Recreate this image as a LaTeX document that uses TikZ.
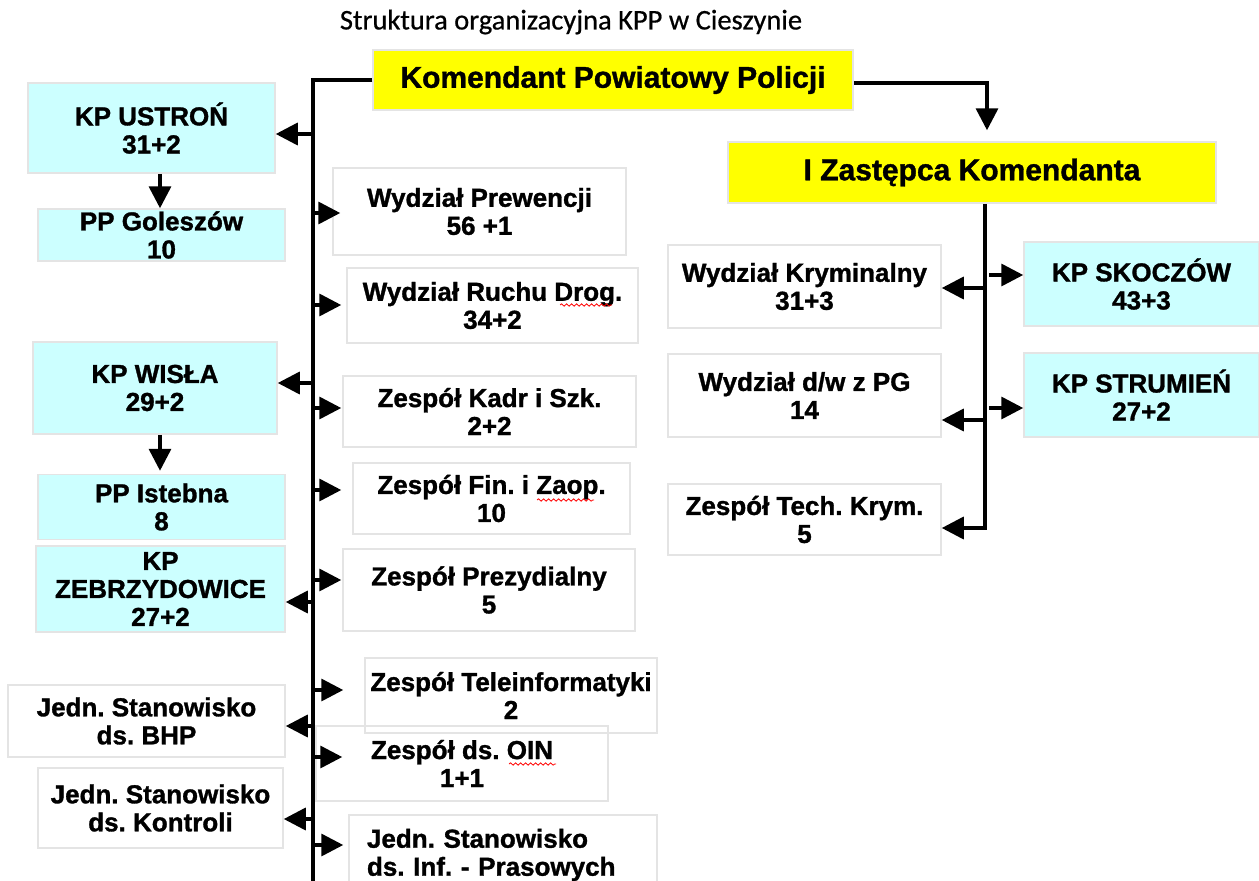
\documentclass[tikz,border=0pt]{standalone}
\usepackage{fontspec}
\setmainfont{Liberation Sans}[BoldFeatures={FakeBold=1.2}]
\newfontfamily\titlefont{Carlito}[FakeBold=0.6]
\usetikzlibrary{arrows.meta,decorations.pathmorphing}
\definecolor{lcyan}{HTML}{CCFFFF}
\definecolor{yel}{HTML}{FFFF00}
\definecolor{bord}{HTML}{E4E4E4}
\frenchspacing
\begin{document}
\frenchspacing
\begin{tikzpicture}[x=1pt,y=-1pt,
  box/.style={draw=bord, line width=1.5pt, inner sep=0pt, align=center, font=\fontsize{26}{28}\selectfont\bfseries\frenchspacing},
  cbox/.style={box, fill=lcyan},
  ybox/.style={box, fill=yel, font=\fontsize{30}{32}\selectfont\bfseries},
  conn/.style={line width=3.5pt},
  arr/.style={line width=3.5pt, -{Triangle[length=22pt,width=22pt]}},
  squig/.style={red, line width=0.8pt, decorate, decoration={snake, amplitude=1.2pt, segment length=5pt}}
]
\useasboundingbox[fill=white] (0,0) rectangle (1259,881);

\node[font=\titlefont\fontsize{28.5}{30}\selectfont] (title) at (571,22) {Struktura organizacyjna KPP w Cieszynie};

% top
\node[ybox, minimum width=480pt, minimum height=60pt] (kpp) at (613,80) {Komendant Powiatowy Policji};
\node[ybox, minimum width=488pt, minimum height=61pt] (zast) at (972,172.5) {I Zastępca Komendanta};

% left column
\node[cbox, minimum width=247pt, minimum height=90pt] (ustron) at (151.5,128) {KP USTROŃ\\31+2};
\node[cbox, minimum width=247pt, minimum height=52pt] (golesz) at (161.5,235) {PP Goleszów\\10};
\node[cbox, minimum width=244pt, minimum height=92pt] (wisla) at (155,388) {KP WISŁA\\29+2};
\node[cbox, minimum width=247pt, minimum height=65pt] (istebna) at (161.5,507) {PP Istebna\\8};
\node[cbox, minimum width=249pt, minimum height=86pt] (zebrz) at (160.5,589) {KP\\ZEBRZYDOWICE\\27+2};
\node[box, minimum width=277pt, minimum height=72pt] (bhp) at (146.5,721) {Jedn. Stanowisko\\ds. BHP};
\node[box, minimum width=245pt, minimum height=80pt] (kontr) at (160.5,808) {Jedn. Stanowisko\\ds. Kontroli};

% middle column
\node[box, minimum width=293pt, minimum height=87pt] (prew) at (479.5,211.5) {Wydział Prewencji\\56 +1};
\node[box, minimum width=291pt, minimum height=75pt] (ruch) at (492.5,305.5) {Wydział Ruchu Drog.\\34+2};
\node[box, minimum width=293pt, minimum height=71pt] (kadr) at (489.5,411.5) {Zespół Kadr i Szk.\\2+2};
\node[box, minimum width=277pt, minimum height=71pt] (fin) at (491.5,498.5) {Zespół Fin. i Zaop.\\10};
\node[box, minimum width=292pt, minimum height=82pt] (prez) at (489,590) {Zespół Prezydialny\\5};
\node[box, minimum width=292pt, minimum height=75pt] (tele) at (511,695.5) {Zespół Teleinformatyki\\2};
\node[box, fill=none, minimum width=292pt, minimum height=75pt] (oin) at (462,763.5) {Zespół ds. OIN\\1+1};
\node[box, minimum width=308pt, minimum height=80pt, text width=272pt, align=left] (prasa) at (503,855) {Jedn. Stanowisko\\ds. Inf. - Prasowych};

% right side
\node[box, minimum width=273pt, minimum height=83pt] (krym) at (804.5,286.5) {Wydział Kryminalny\\31+3};
\node[box, minimum width=273pt, minimum height=83pt] (dw) at (804.5,395.5) {Wydział d/w z PG\\14};
\node[box, minimum width=273pt, minimum height=71pt] (tech) at (804.5,519.5) {Zespół Tech. Krym.\\5};
\node[cbox, minimum width=235pt, minimum height=84pt] (skocz) at (1141.5,284) {KP SKOCZÓW\\43+3};
\node[cbox, minimum width=235pt, minimum height=84pt] (strum) at (1141.5,395) {KP STRUMIEŃ\\27+2};

% spelling squiggles
\draw[squig] (560,305) -- (612,305);
\draw[squig] (537,500) -- (594,500);
\draw[squig] (509,764) -- (556,764);

% main spine
\coordinate (sp) at (313,0);
\coordinate (spb) at (313,895);
\draw[conn] (kpp.west) -| (spb);

% left arrows
\draw[arr] (sp |- 0,134) -- (ustron.east |- 0,134);
\draw[arr] (sp |- 0,383) -- (wisla.east |- 0,383);
\draw[arr] (sp |- 0,602) -- (zebrz.east |- 0,602);
\draw[arr] (sp |- 0,726) -- (bhp.east |- 0,726);
\draw[arr] (sp |- 0,819) -- (kontr.east |- 0,819);

% right arrows
\draw[arr, shorten >=-8pt] (sp |- 0,213) -- (prew.west |- 0,213);
\draw[arr, shorten >=5pt] (sp |- 0,305) -- (ruch.west |- 0,305);
\draw[arr, shorten >=1pt] (sp |- 0,408) -- (kadr.west |- 0,408);
\draw[arr, shorten >=11pt] (sp |- 0,490) -- (fin.west |- 0,490);
\draw[arr, shorten >=1pt] (sp |- 0,580) -- (prez.west |- 0,580);
\draw[arr, shorten >=21pt] (sp |- 0,690) -- (tele.west |- 0,690);
\draw[arr, shorten >=-27pt] (sp |- 0,757) -- (oin.west |- 0,757);
\draw[arr, shorten >=5pt] (sp |- 0,845) -- (prasa.west |- 0,845);

% down arrows
\draw[arr] (ustron.south -| 160,0) -- (golesz.north -| 160,0);
\draw[arr, shorten >=3pt] (wisla.south -| 160,0) -- (istebna.north -| 160,0);

% Komendant -> Zastepca
\draw[arr, shorten >=11pt] (kpp.east |- 0,83) -| (zast.north -| 987,0);

% Zastepca spine
\coordinate (zs) at (985,0);
\draw[arr] (zast.south -| zs) |- (tech.east |- 0,528);
\draw[arr] (zs |- 0,288) -- (krym.east |- 0,288);
\draw[arr] (zs |- 0,420) -- (dw.east |- 0,420);
\draw[arr, shorten <=4pt] (zs |- 0,275) -- (skocz.west |- 0,275);
\draw[arr, shorten <=4pt] (zs |- 0,408) -- (strum.west |- 0,408);
\end{tikzpicture}
\end{document}
